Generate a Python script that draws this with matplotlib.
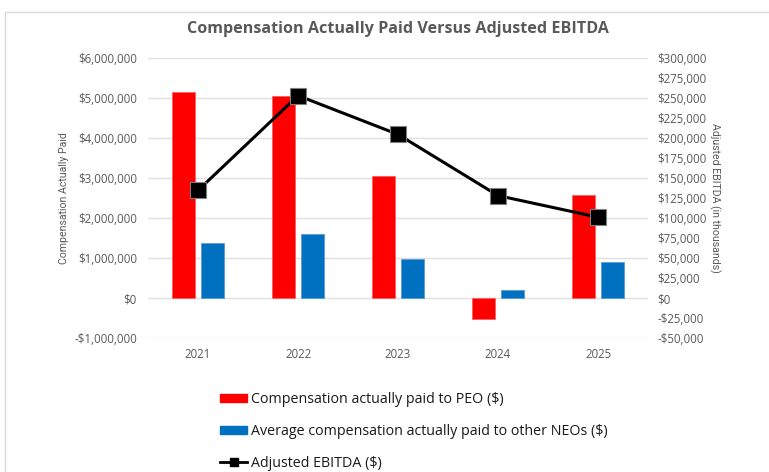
import matplotlib
matplotlib.use("Agg")
import matplotlib.pyplot as plt
import numpy as np
from matplotlib.ticker import FuncFormatter
from matplotlib.patches import Rectangle
from matplotlib.lines import Line2D
from matplotlib.patches import Patch

years = ["2021", "2022", "2023", "2024", "2025"]
peo_cap = [5140000, 5060000, 3050000, -520000, 2580000]
neo_cap = [1370000, 1610000, 975000, 190000, 900000]
adj_ebitda = [134500, 253000, 204500, 128000, 101000]

left_ticks = list(range(-1000000, 6000001, 1000000))
right_ticks = list(range(-50000, 300001, 25000))

plt.rcParams['font.family'] = ['Open Sans', 'DejaVu Sans']
grey = '#595959'
narrow = ['Roboto', 'DejaVu Sans']

fig = plt.figure(figsize=(7.69, 4.72), dpi=100)
fig.patches.append(Rectangle((5/769, -0.01), 1.0, 1 - 12/472 + 0.01, transform=fig.transFigure,
                             fill=False, edgecolor='#d9d9d9', lw=1))

ax = fig.add_axes([148/769, 1 - 338/472, 500/769, 280/472])
x = np.arange(len(years))
w = 0.23
off = 0.145
ax.bar(x - off, peo_cap, width=w, color='#ff0000', edgecolor='#ff6060', lw=0.6, zorder=2)
ax.bar(x + off, neo_cap, width=w, color='#0070c0', edgecolor='#5a9bd5', lw=0.6, zorder=2)
ax.set_xlim(-0.5, 4.5)
ax.set_ylim(-1000000, 6000000)
ax.set_yticks(left_ticks)
ax.yaxis.set_major_formatter(FuncFormatter(lambda v, p: ('-$' if v < 0 else '$') + f"{abs(int(v)):,}"))
ax.set_xticks(x)
ax.set_xticklabels(years)
ax.grid(axis='y', color='#e0e0e0', lw=1, zorder=0)
ax.set_axisbelow(True)
for s in ax.spines.values():
    s.set_visible(False)
ax.tick_params(axis='both', length=0, colors=grey, labelsize=8.3)
ax.tick_params(axis='y', pad=8)
ax.tick_params(axis='x', pad=7)
ax.set_ylabel('Compensation Actually Paid', color=grey, fontsize=7.6, family=narrow, labelpad=4)

ax2 = ax.twinx()
ax2.plot(x, adj_ebitda, color='black', lw=2.2, marker='s', markersize=11,
         markerfacecolor='black', markeredgecolor='#7f7f7f', markeredgewidth=0.8, zorder=3)
ax2.set_ylim(-50000, 300000)
ax2.set_yticks(right_ticks)
ax2.yaxis.set_major_formatter(FuncFormatter(lambda v, p: ('-$' if v < 0 else '$') + f"{abs(int(v)):,}"))
for s in ax2.spines.values():
    s.set_visible(False)
ax2.tick_params(axis='y', length=0, colors=grey, labelsize=8.3, pad=7)
ax2.set_ylabel('Adjusted EBITDA (in thousands)', color=grey, fontsize=7.6, rotation=270,
               family=narrow, labelpad=10)

fig.text(398/769, 1 - 29/472, 'Compensation Actually Paid Versus Adjusted EBITDA', ha='center', va='center',
         fontsize=11.6, fontweight='bold', color=grey)

handles = [Patch(facecolor='#ff0000', edgecolor='#ff0000'),
           Patch(facecolor='#0070c0', edgecolor='#0070c0'),
           Line2D([0], [0], color='black', lw=2, marker='s', markersize=6, markerfacecolor='black')]
labels = ['Compensation actually paid to PEO ($)',
          'Average compensation actually paid to other NEOs ($)',
          'Adjusted EBITDA ($)']
leg = fig.legend(handles, labels, loc='upper left', bbox_to_anchor=(220/769, 1 - 392/472), frameon=False,
                 fontsize=10.3, labelspacing=1.18, handlelength=1.9, handleheight=0.5, handletextpad=0.25,
                 borderaxespad=0, borderpad=0)
for t in leg.get_texts():
    t.set_color('#1a1a1a')

fig.savefig('out.png', dpi=100)
